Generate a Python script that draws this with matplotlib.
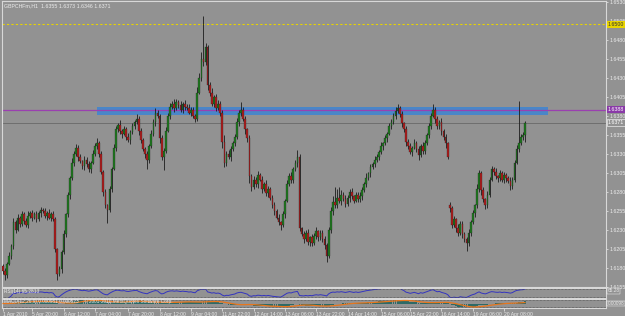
import numpy as np
import pandas as pd
import matplotlib
matplotlib.use("Agg")
import matplotlib.pyplot as plt
from matplotlib.patches import Rectangle

plt.rcParams['font.family'] = ['Liberation Sans', 'DejaVu Sans']

# GBPCHF H1 - closes in pips above 1.6000
closes = [
    176, 170, 185, 196, 208, 240, 230, 246, 238, 250, 242, 236, 248, 252, 246, 250, 244, 252, 256, 254,
    248, 252, 246, 250, 244, 204, 172, 178, 200, 224, 250, 276, 298, 318, 330, 338, 326, 320, 314, 322,
    316, 310, 318, 330, 340, 344, 330, 306, 280, 262, 256, 284, 310, 338, 362, 368, 360, 356, 362, 352,
    348, 358, 366, 372, 376, 360, 348, 336, 330, 322, 340, 356, 372, 384, 380, 350, 326, 334, 360, 380,
    392, 396, 390, 398, 394, 388, 396, 392, 390, 384, 388, 380, 376, 410, 430, 455, 450, 470, 420, 410,
    396, 404, 390, 396, 384, 346, 318, 330, 326, 336, 344, 352, 372, 384, 388, 376, 362, 350, 300, 286,
    296, 290, 302, 296, 284, 290, 278, 284, 272, 262, 254, 246, 240, 236, 250, 268, 290, 300, 296, 310,
    318, 326, 232, 224, 218, 226, 214, 220, 212, 222, 228, 220, 226, 218, 210, 196, 230, 254, 266, 262,
    272, 268, 276, 270, 264, 272, 280, 274, 268, 276, 270, 274, 282, 290, 298, 304, 312, 316, 322, 326,
    332, 340, 344, 350, 356, 366, 372, 380, 386, 390, 382, 370, 362, 346, 340, 332, 338, 344, 336, 328,
    340, 334, 344, 354, 366, 380, 388, 376, 366, 372, 360, 352, 344, 326, 258, 236, 244, 232, 226, 238,
    224, 218, 212, 226, 240, 252, 262, 284, 304, 282, 270, 262, 276, 296, 310, 306, 300, 298, 304, 296,
    302, 298, 294, 288, 296, 318, 336, 344, 352, 355, 371,
]
first_open = 182
gap_opens = {214: 262}  # weekend gap

# wick lengths in pips
upper_wick = [
    3, 4, 2, 5, 3, 6, 3, 4, 2, 5, 3, 4, 6, 2, 4, 3, 5, 2, 4, 3,
    4, 2, 5, 3, 4, 3, 2, 4, 3, 5, 2, 4, 3, 6, 3, 5, 4, 3, 2, 5,
    3, 4, 2, 5, 4, 6, 3, 4, 2, 3, 2, 4, 3, 5, 4, 3, 6, 2, 4, 3,
    5, 3, 4, 2, 6, 3, 4, 2, 3, 4, 3, 5, 4, 6, 3, 2, 4, 3, 5, 4,
    5, 3, 6, 4, 3, 5, 2, 4, 3, 5, 3, 4, 2, 8, 6, 9, 56, 5, 3, 4,
    6, 3, 5, 4, 3, 4, 8, 3, 5, 4, 3, 4, 5, 4, 10, 3, 4, 2, 5, 3,
    4, 3, 5, 2, 4, 3, 5, 4, 2, 3, 4, 3, 5, 2, 4, 3, 5, 4, 6, 3,
    4, 9, 3, 2, 4, 3, 5, 2, 4, 3, 5, 2, 4, 3, 4, 2, 4, 6, 8, 20,
    12, 14, 6, 3, 5, 4, 3, 5, 2, 4, 3, 5, 4, 3, 6, 2, 4, 3, 5, 4,
    3, 5, 2, 4, 3, 5, 4, 3, 5, 6, 3, 4, 2, 5, 3, 4, 2, 5, 3, 4,
    3, 5, 4, 3, 5, 4, 8, 3, 4, 2, 5, 3, 4, 2, 4, 3, 4, 2, 5, 3,
    4, 3, 2, 5, 3, 4, 2, 6, 5, 3, 4, 2, 5, 3, 4, 3, 5, 2, 4, 3,
    4, 2, 3, 5, 3, 4, 5, 55, 4, 3, 2,
]
lower_wick = [
    4, 6, 3, 2, 4, 3, 5, 2, 4, 3, 5, 2, 4, 3, 5, 2, 4, 3, 5, 2,
    3, 5, 2, 4, 3, 4, 8, 3, 5, 2, 4, 3, 5, 2, 4, 3, 5, 2, 4, 6,
    3, 4, 5, 2, 3, 4, 5, 3, 6, 4, 17, 3, 4, 2, 5, 3, 4, 6, 2, 4,
    3, 5, 2, 4, 3, 5, 4, 3, 6, 12, 4, 2, 3, 5, 3, 6, 4, 18, 3, 2,
    4, 3, 5, 2, 4, 3, 5, 4, 3, 2, 4, 3, 4, 3, 2, 4, 5, 3, 6, 4,
    3, 5, 4, 2, 5, 8, 6, 4, 3, 5, 2, 4, 3, 5, 4, 3, 6, 4, 8, 5,
    3, 4, 5, 2, 6, 3, 4, 5, 3, 4, 5, 2, 4, 6, 3, 4, 2, 3, 5, 4,
    3, 5, 4, 2, 6, 3, 4, 5, 3, 2, 4, 5, 3, 4, 6, 8, 3, 4, 5, 3,
    4, 3, 5, 2, 4, 3, 5, 4, 3, 2, 4, 3, 5, 2, 4, 3, 5, 2, 4, 3,
    4, 2, 5, 3, 4, 2, 4, 3, 5, 3, 4, 5, 3, 6, 4, 3, 5, 2, 4, 6,
    3, 4, 5, 2, 4, 3, 2, 5, 4, 3, 5, 4, 6, 3, 5, 4, 3, 5, 4, 3,
    5, 4, 10, 3, 4, 2, 5, 3, 4, 6, 3, 5, 4, 3, 2, 4, 3, 5, 4, 3,
    4, 5, 3, 6, 4, 3, 2, 4, 3, 4, 9,
]

price_ticks = [1.6155, 1.6180, 1.6205, 1.6230, 1.6255, 1.6280, 1.6305, 1.6330,
               1.6355, 1.6380, 1.6405, 1.6430, 1.6455, 1.6480, 1.6505, 1.6530]
time_labels = ["1 Apr 2010", "5 Apr 20:00", "6 Apr 12:00", "7 Apr 04:00", "7 Apr 20:00",
               "8 Apr 12:00", "9 Apr 04:00", "11 Apr 22:00", "12 Apr 14:00", "13 Apr 06:00",
               "13 Apr 22:00", "14 Apr 14:00", "15 Apr 06:00", "15 Apr 22:00", "16 Apr 14:00",
               "19 Apr 06:00", "20 Apr 08:00"]
time_pos = [0, 14, 29, 44, 60, 75, 90, 105, 120, 135, 150, 165, 181, 195, 210, 225, 240]

header = "GBPCHFm,H1  1.6355 1.6373 1.6346 1.6371"
target_level = 1.6500
resist_level = 1.6388
last_price = 1.6371
zone_low, zone_high = 1.6381, 1.6391
zone_start, zone_end = 45, 261

# build OHLC
c = 1.6 + np.array(closes) / 10000
o = np.r_[first_open, closes[:-1]].astype(float)
for k, v in gap_opens.items():
    o[k] = v
o = 1.6 + o / 10000
h = np.maximum(o, c) + np.array(upper_wick) / 10000
l = np.minimum(o, c) - np.array(lower_wick) / 10000
df = pd.DataFrame({'open': o, 'high': h, 'low': l, 'close': c})
x = np.arange(len(df))

# indicators
delta = df['close'].diff()
gain = delta.clip(lower=0).ewm(alpha=1 / 14, adjust=False).mean()
loss = (-delta.clip(upper=0)).ewm(alpha=1 / 14, adjust=False).mean()
rsi = 100 - 100 / (1 + gain / loss)
macd = df['close'].ewm(span=12, adjust=False).mean() - df['close'].ewm(span=26, adjust=False).mean()
signal = macd.rolling(9, min_periods=1).mean()

BG = '#929292'
LIGHT = '#ececec'
fig = plt.figure(figsize=(6.25, 3.16), dpi=100, facecolor=BG)
ax = fig.add_axes([2 / 625, 1 - 287 / 316, 604 / 625, 286 / 316], facecolor=BG)
ax2 = fig.add_axes([2 / 625, 1 - 298 / 316, 604 / 625, 10 / 316], facecolor=BG, sharex=ax)
ax3 = fig.add_axes([2 / 625, 1 - 308 / 316, 604 / 625, 9 / 316], facecolor=BG, sharex=ax)

# zone + lines
ax.add_patch(Rectangle((zone_start, zone_low), zone_end - zone_start, zone_high - zone_low,
                       facecolor='#4a86c8', edgecolor='none', zorder=1))
ax.axhline(target_level, color='#e8d400', lw=0.8, ls=(0, (2, 2)), zorder=1)
ax.axhline(resist_level, color='#9a40b0', lw=0.9, zorder=2)
ax.axhline(last_price, color='#6e6e6e', lw=0.7, zorder=1)

# candles
ax.vlines(x, df['low'], df['high'], color='#1c1c1c', lw=0.6, zorder=3)
bull = df['close'] >= df['open']
body = (df['close'] - df['open']).abs().clip(lower=0.00008)
ax.bar(x[bull], body[bull], bottom=df['open'][bull], width=0.8,
       color='#1f7a1f', edgecolor='#1c1c1c', lw=0.2, zorder=4)
ax.bar(x[~bull], body[~bull], bottom=df['close'][~bull], width=0.8,
       color='#b01c1c', edgecolor='#1c1c1c', lw=0.2, zorder=4)

ax.set_xlim(-0.5, 288.8)
ax.set_ylim(1.61546, 1.65309)
ax.yaxis.tick_right()
ax.set_yticks(price_ticks)
ax.set_yticklabels([f"{v:.4f}" for v in price_ticks])
ax.tick_params(axis='y', direction='out', length=1.5, width=0.5, colors=LIGHT, labelsize=3.8, pad=0.8)
ax.tick_params(axis='x', bottom=False, labelbottom=False)
ax.text(0.003, 0.983, header, transform=ax.transAxes, fontsize=3.8, color=LIGHT, va='center')

# price labels on the right
ytr = ax.get_yaxis_transform()
box = dict(fontsize=3.8, va='center', clip_on=False, zorder=10)
ax.text(1.003, target_level, "1.6500", transform=ytr, color='#303030',
        bbox=dict(boxstyle='square,pad=0.12', fc='#e8d400', ec='none'), **box)
ax.text(1.003, resist_level, "1.6388", transform=ytr, color='white',
        bbox=dict(boxstyle='square,pad=0.12', fc='#8a3aa8', ec='none'), **box)
ax.text(1.003, last_price, "1.6371", transform=ytr, color='white',
        bbox=dict(boxstyle='square,pad=0.12', fc=BG, ec='white', lw=0.4), **box)

# RSI panel
ax2.plot(x, rsi, color='#3434c0', lw=0.7)
for lv in (70, 30):
    ax2.axhline(lv, color='#404040', lw=0.5, ls=(0, (1, 1)))
ax2.set_ylim(22, 78)
ax2.set_yticks([])
ax2.tick_params(axis='x', bottom=False, labelbottom=False)
ax2.text(0.003, 0.62, "RSI(14) 65.2813", transform=ax2.transAxes, fontsize=3.4, color=LIGHT, va='center')
ax2.text(1.003, 0.7, "65.28", transform=ax2.transAxes, fontsize=3.4, color=LIGHT, va='center',
         clip_on=False, bbox=dict(boxstyle='square,pad=0.1', fc=BG, ec='white', lw=0.3))

# MACD panel
ax3.bar(x, macd, width=0.9, color='#2e6a66', zorder=2)
ax3.plot(x, signal, color='#e8761c', lw=0.9, zorder=3)
lim = float(np.abs(macd).max()) * 1.15
ax3.axhline(lim * 0.75, color='#404040', lw=0.5, ls=(0, (1, 1)))
ax3.axhline(-lim * 0.75, color='#404040', lw=0.5, ls=(0, (1, 1)))
ax3.set_ylim(-lim, lim)
ax3.set_yticks([])
ax3.text(0.003, 0.72, "MACD(12,26,9) 0.000981 0.000523    \u00a9 2001-2010 MetaQuotes Software Corp.",
         transform=ax3.transAxes, fontsize=3.4, color=LIGHT, va='center')
ax3.text(1.003, 0.5, "0.00098", transform=ax3.transAxes, fontsize=3.4, color=LIGHT, va='center',
         clip_on=False, bbox=dict(boxstyle='square,pad=0.1', fc=BG, ec='white', lw=0.3))

ax3.set_xticks(time_pos)
ax3.set_xticklabels(time_labels, ha='left')
ax3.tick_params(axis='x', direction='out', length=2, width=0.5, colors=LIGHT, labelsize=3.6, pad=0.8)

for a in (ax, ax2, ax3):
    for s in a.spines.values():
        s.set_color('#d8d8d8')
        s.set_linewidth(0.8)

fig.savefig('out.png', dpi=100, facecolor=BG)
